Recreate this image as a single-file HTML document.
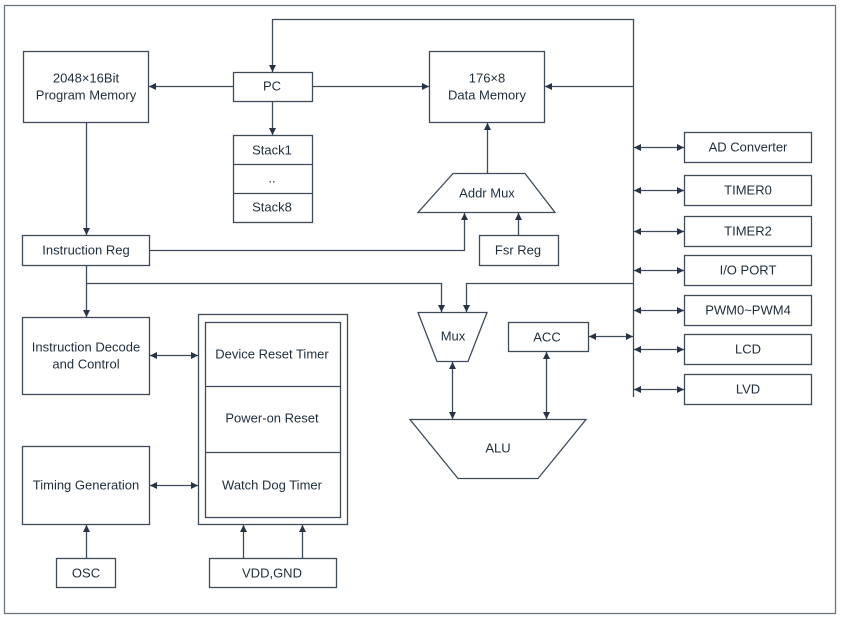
<!DOCTYPE html>
<html><head><meta charset="utf-8"><style>
html,body{margin:0;padding:0;background:#fff}
svg{display:block}
text{font-family:"Liberation Sans",sans-serif;font-size:13px;fill:#1f2d3d;text-anchor:middle;dominant-baseline:central}
</style></head><body>
<svg width="842" height="621" viewBox="0 0 842 621" xmlns="http://www.w3.org/2000/svg">
<defs>
<marker id="a" viewBox="0 0 10 10" refX="10" refY="5" markerWidth="7" markerHeight="7" orient="auto-start-reverse" markerUnits="userSpaceOnUse"><path d="M0,0 L10,5 L0,10 z" fill="#263445"/></marker>
</defs>
<g fill="none" stroke="#3d4b5a" stroke-width="1.3">
<rect x="4.5" y="5.5" width="831" height="608" stroke="#6b7683"/>
<rect x="23.5" y="51.5" width="125" height="71"/>
<rect x="233.5" y="72.5" width="79" height="29"/>
<rect x="233.5" y="135.5" width="79" height="87"/>
<line x1="233" y1="164.5" x2="312" y2="164.5"/>
<line x1="233" y1="193.5" x2="312" y2="193.5"/>
<rect x="429.5" y="51.5" width="115" height="71"/>
<polygon points="453,173.5 525,173.5 555,212.5 418,212.5"/>
<rect x="479.5" y="235.5" width="79" height="30"/>
<rect x="22.5" y="235.5" width="127" height="30"/>
<polygon points="418,312.5 487,312.5 468,361.5 437,361.5"/>
<rect x="508.5" y="322.5" width="80" height="29"/>
<polygon points="410,419.5 586,419.5 538,478.5 458,478.5"/>
<rect x="22.5" y="317.5" width="127" height="77"/>
<rect x="198.5" y="314.5" width="149" height="210"/>
<rect x="205.5" y="322.5" width="135" height="195"/>
<line x1="205" y1="386.5" x2="340" y2="386.5"/>
<line x1="205" y1="452.5" x2="340" y2="452.5"/>
<rect x="22.5" y="446.5" width="127" height="78"/>
<rect x="56.5" y="558.5" width="59" height="29"/>
<rect x="209.5" y="558.5" width="127" height="29"/>
<rect x="684.5" y="132.5" width="127" height="30"/>
<rect x="684.5" y="175.5" width="127" height="30"/>
<rect x="684.5" y="216.5" width="127" height="30"/>
<rect x="684.5" y="255.5" width="127" height="30"/>
<rect x="684.5" y="295.5" width="127" height="30"/>
<rect x="684.5" y="334.5" width="127" height="30"/>
<rect x="684.5" y="374.5" width="127" height="30"/>
<polyline points="633.5,397 633.5,19.5 272.5,19.5 272.5,72" marker-end="url(#a)"/>
<line x1="233" y1="86.5" x2="149" y2="86.5" marker-end="url(#a)"/>
<line x1="312" y1="86.5" x2="429" y2="86.5" marker-end="url(#a)"/>
<line x1="633" y1="86.5" x2="545" y2="86.5" marker-end="url(#a)"/>
<line x1="272.5" y1="101" x2="272.5" y2="135" marker-end="url(#a)"/>
<line x1="487.5" y1="173" x2="487.5" y2="123" marker-end="url(#a)"/>
<line x1="518.5" y1="235" x2="518.5" y2="213" marker-end="url(#a)"/>
<polyline points="149,250.5 464.5,250.5 464.5,213" marker-end="url(#a)"/>
<line x1="86.5" y1="122" x2="86.5" y2="235" marker-end="url(#a)"/>
<polyline points="86.5,265 86.5,283.5 441.5,283.5 441.5,312" marker-end="url(#a)"/>
<line x1="86.5" y1="283" x2="86.5" y2="317" marker-end="url(#a)"/>
<polyline points="633,283.5 466.5,283.5 466.5,312" marker-end="url(#a)"/>
<line x1="452.5" y1="362" x2="452.5" y2="419" marker-start="url(#a)" marker-end="url(#a)"/>
<line x1="546.5" y1="352" x2="546.5" y2="419" marker-start="url(#a)" marker-end="url(#a)"/>
<line x1="589" y1="336.5" x2="633" y2="336.5" marker-start="url(#a)" marker-end="url(#a)"/>
<line x1="150" y1="355.5" x2="198" y2="355.5" marker-start="url(#a)" marker-end="url(#a)"/>
<line x1="150" y1="485.5" x2="198" y2="485.5" marker-start="url(#a)" marker-end="url(#a)"/>
<line x1="86.5" y1="558" x2="86.5" y2="525" marker-end="url(#a)"/>
<line x1="243.5" y1="558" x2="243.5" y2="525" marker-end="url(#a)"/>
<line x1="302.5" y1="558" x2="302.5" y2="525" marker-end="url(#a)"/>
<line x1="634" y1="147.5" x2="684" y2="147.5" marker-start="url(#a)" marker-end="url(#a)"/>
<line x1="634" y1="190.5" x2="684" y2="190.5" marker-start="url(#a)" marker-end="url(#a)"/>
<line x1="634" y1="231.5" x2="684" y2="231.5" marker-start="url(#a)" marker-end="url(#a)"/>
<line x1="634" y1="270.5" x2="684" y2="270.5" marker-start="url(#a)" marker-end="url(#a)"/>
<line x1="634" y1="310.5" x2="684" y2="310.5" marker-start="url(#a)" marker-end="url(#a)"/>
<line x1="634" y1="349.5" x2="684" y2="349.5" marker-start="url(#a)" marker-end="url(#a)"/>
<line x1="634" y1="389.5" x2="684" y2="389.5" marker-start="url(#a)" marker-end="url(#a)"/>
</g>
<text x="86" y="78">2048×16Bit</text>
<text x="86" y="95">Program Memory</text>
<text x="272" y="86">PC</text>
<text x="272" y="150">Stack1</text>
<text x="272" y="178">..</text>
<text x="272" y="207">Stack8</text>
<text x="487" y="78">176×8</text>
<text x="487" y="95">Data Memory</text>
<text x="487" y="193">Addr Mux</text>
<text x="518" y="250">Fsr Reg</text>
<text x="86" y="250">Instruction Reg</text>
<text x="453" y="336">Mux</text>
<text x="547" y="337">ACC</text>
<text x="498" y="448">ALU</text>
<text x="86" y="347">Instruction Decode</text>
<text x="86" y="364">and Control</text>
<text x="272" y="354">Device Reset Timer</text>
<text x="272" y="418">Power-on Reset</text>
<text x="272" y="485">Watch Dog Timer</text>
<text x="86" y="485">Timing Generation</text>
<text x="86" y="573">OSC</text>
<text x="272" y="573">VDD,GND</text>
<text x="748" y="147">AD Converter</text>
<text x="748" y="190">TIMER0</text>
<text x="748" y="231">TIMER2</text>
<text x="748" y="270">I/O PORT</text>
<text x="748" y="310">PWM0~PWM4</text>
<text x="748" y="349">LCD</text>
<text x="748" y="389">LVD</text>
</svg>
</body></html>
